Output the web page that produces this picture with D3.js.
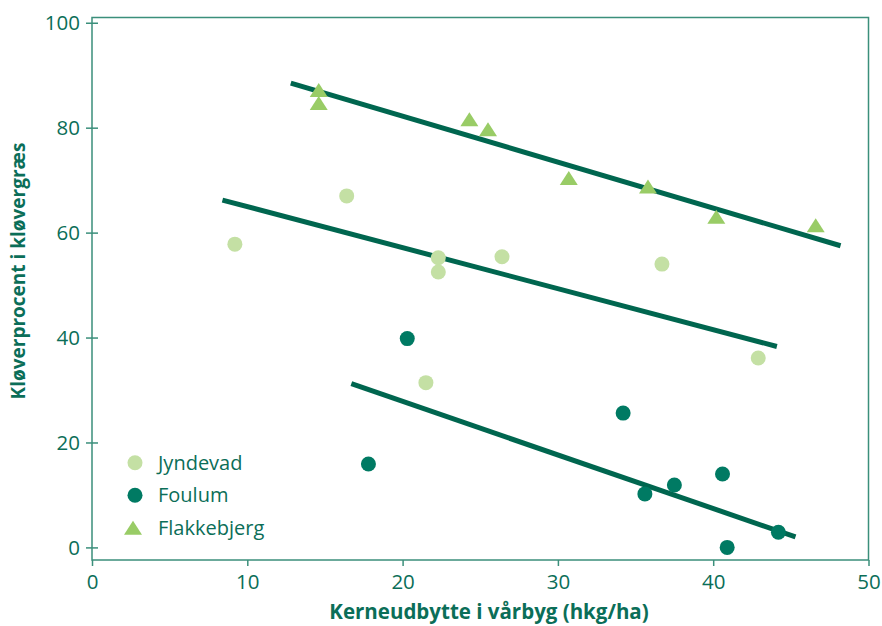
<!DOCTYPE html>
<html>
<head>
<meta charset="utf-8">
<script src="https://cdn.jsdelivr.net/npm/d3@7"></script>
<style>
  html, body { margin: 0; padding: 0; background: #ffffff; }
  svg { display: block; }
  text { font-family: "Open Sans", "Noto Sans", sans-serif; }
</style>
</head>
<body>
<svg id="chart" width="882" height="626"></svg>
<script>
// ---- Data ----
const xTicks = [0, 10, 20, 30, 40, 50];
const yTicks = [0, 20, 40, 60, 80, 100];

const seriesNames = ["Jyndevad", "Foulum", "Flakkebjerg"];

const jyndevadX = [9.2, 16.4, 22.3, 22.3, 26.4, 36.7, 21.5, 42.9];
const jyndevadY = [57.8, 67.0, 55.2, 52.5, 55.4, 54.0, 31.4, 36.1];

const foulumX = [20.3, 17.8, 34.2, 35.6, 37.5, 40.6, 40.9, 44.2];
const foulumY = [39.8, 15.9, 25.6, 10.2, 11.9, 14.0, 0.0, 2.9];

const flakkebjergX = [14.6, 14.6, 24.3, 25.5, 30.7, 35.8, 40.2, 46.6];
const flakkebjergY = [87.2, 84.7, 81.6, 79.7, 70.4, 68.8, 63.0, 61.4];

// trend line end points [x0, y0, x1, y1]
const jyndevadTrend = [8.4, 66.2, 44.1, 38.3];
const foulumTrend = [16.7, 31.2, 45.3, 2.0];
const flakkebjergTrend = [12.8, 88.5, 48.2, 57.5];

const xTitle = "Kerneudbytte i vårbyg (hkg/ha)";
const yTitle = "Kløverprocent i kløvergræs";

// ---- Styles ----
const textColor = "#0b6e58";
const axisColor = "#3b8f7b";
const lineColor = "#00664f";
const colJ = "#c4e0a4";
const colF = "#007a63";
const colK = "#99cc66";

const svg = d3.select("#chart");

const x = d3.scaleLinear().domain([0, 50]).range([92, 868.5]);
const y = d3.scaleLinear().domain([-2.4, 101]).range([560, 17.5]);

// frame
svg.append("rect")
  .attr("x", x(0)).attr("y", y(101))
  .attr("width", x(50) - x(0)).attr("height", y(-2.4) - y(101))
  .attr("fill", "none").attr("stroke", axisColor).attr("stroke-width", 1.5);

// x axis
const gx = svg.append("g")
  .attr("transform", `translate(0,${y(-2.4)})`)
  .call(d3.axisBottom(x).tickValues(xTicks).tickSize(6).tickPadding(6).tickFormat(d3.format("d")));
gx.select(".domain").remove();
gx.selectAll(".tick line").attr("stroke", axisColor).attr("stroke-width", 1.5);
gx.selectAll(".tick text").attr("fill", textColor).style("font-size", "20.5px").attr("dy", "0.85em");

// y axis
const gy = svg.append("g")
  .attr("transform", `translate(${x(0)},0)`)
  .call(d3.axisLeft(y).tickValues(yTicks).tickSize(6).tickPadding(6).tickFormat(d3.format("d")));
gy.select(".domain").remove();
gy.selectAll(".tick line").attr("stroke", axisColor).attr("stroke-width", 1.5).attr("x1", 6);
gy.selectAll(".tick text").attr("fill", textColor).style("font-size", "20.5px").attr("dy", "0.35em");

// trend lines
const trends = [jyndevadTrend, foulumTrend, flakkebjergTrend];
svg.append("g").selectAll("line").data(trends).join("line")
  .attr("x1", d => x(d[0])).attr("y1", d => y(d[1]))
  .attr("x2", d => x(d[2])).attr("y2", d => y(d[3]))
  .attr("stroke", lineColor).attr("stroke-width", 5);

const tri = "M0,-7L9,7L-9,7Z";

// points
const jPts = jyndevadX.map((v, i) => ({ x: v, y: jyndevadY[i] }));
const fPts = foulumX.map((v, i) => ({ x: v, y: foulumY[i] }));
const kPts = flakkebjergX.map((v, i) => ({ x: v, y: flakkebjergY[i] }));

svg.append("g").selectAll("circle").data(jPts).join("circle")
  .attr("cx", d => x(d.x)).attr("cy", d => y(d.y)).attr("r", 7.5).attr("fill", colJ);
svg.append("g").selectAll("circle").data(fPts).join("circle")
  .attr("cx", d => x(d.x)).attr("cy", d => y(d.y)).attr("r", 7.5).attr("fill", colF);
svg.append("g").selectAll("path").data(kPts).join("path")
  .attr("d", tri).attr("transform", d => `translate(${x(d.x)},${y(d.y)})`).attr("fill", colK);

// legend
const legend = svg.append("g").attr("transform", "translate(135,462.7)");
const legendItems = [
  { name: seriesNames[0], color: colJ, shape: "circle" },
  { name: seriesNames[1], color: colF, shape: "circle" },
  { name: seriesNames[2], color: colK, shape: "triangle" }
];
legendItems.forEach((d, i) => {
  const g = legend.append("g").attr("transform", `translate(0,${i * 32.5})`);
  if (d.shape === "circle") g.append("circle").attr("r", 7.5).attr("fill", d.color);
  else g.append("path").attr("d", tri).attr("transform", "translate(-2,0)").attr("fill", d.color);
  g.append("text").attr("x", 23).attr("dy", "0.35em").attr("fill", textColor)
    .style("font-size", "20px").text(d.name);
});

// axis titles
svg.append("text")
  .attr("x", 489).attr("y", 619).attr("text-anchor", "middle")
  .attr("fill", textColor).style("font-size", "20.5px").style("font-weight", "bold")
  .text(xTitle);
svg.append("text")
  .attr("transform", "translate(25,271) rotate(-90)").attr("text-anchor", "middle")
  .attr("fill", textColor).style("font-size", "19px").style("font-weight", "bold")
  .text(yTitle);
</script>
</body>
</html>
